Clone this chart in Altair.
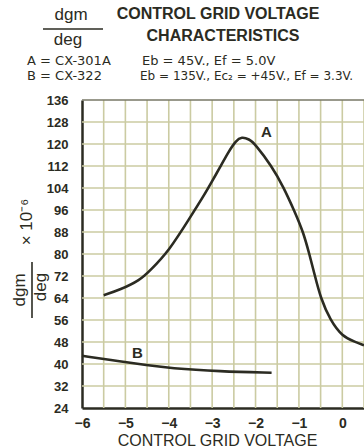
import altair as alt
import pandas as pd

# Curve A: CX-301A
a_x = [-5.5, -5.12, -4.66, -4.43, -4.0, -3.5, -3.2, -3.0, -2.82, -2.63, -2.45, -2.32, -2.15, -2.01, -1.63, -1.36, -1.1, -0.9, -0.76, -0.63, -0.5, -0.28, 0.0, 0.3, 0.5]
a_y = [65, 67, 70.5, 74, 81, 93.5, 101, 106.5, 111.5, 117, 121.3, 122.6, 121.8, 120, 112, 104.5, 95.5, 88, 80, 72, 64, 56, 50, 48, 46.8]
# Curve B: CX-322
b_x = [-6, -5.14, -4.5, -3.98, -2.82, -1.63]
b_y = [43, 41, 39.6, 38.5, 37.3, 36.8]

x_ticks = [-6, -5, -4, -3, -2, -1, 0]
x_grid = [-5.5, -5, -4.5, -4, -3.5, -3, -2.5, -2, -1.5, -1, -0.5, 0, 0.5]
y_ticks = [24, 32, 40, 48, 56, 64, 72, 80, 88, 96, 104, 112, 120, 128, 136]
y_grid = [32, 40, 48, 56, 64, 72, 80, 88, 96, 104, 112, 120, 128]

curve_labels = ["A", "B"]
label_x = [-1.75, -4.72]
label_y = [124.5, 44]

FONT = "Liberation Sans"
HFONT = "DejaVu Sans"
INK = "#2b2b22"
GRID = "#cbcba2"

df_a = pd.DataFrame({"v": a_x, "g": a_y})
df_b = pd.DataFrame({"v": b_x, "g": b_y})
df_lab = pd.DataFrame({"v": label_x, "g": label_y, "t": curve_labels})

xs = alt.Scale(domain=[-6, 0.5], nice=False, zero=False)
ys = alt.Scale(domain=[24, 136], nice=False, zero=False)

x_axis = alt.Axis(values=x_ticks, grid=False, ticks=False, domainColor=INK, domainWidth=2.5,
                  labelFont=FONT, labelFontWeight="bold", labelFontSize=14, labelColor=INK,
                  labelPadding=8, labelOverlap=False, labelBound=False, labelFlush=False,
                  title="CONTROL GRID VOLTAGE", titleFont=FONT, titleFontSize=16,
                  titleFontWeight="normal", titleColor=INK, titlePadding=2, titleX=135)
y_axis = alt.Axis(values=y_ticks, grid=False, ticks=False, domainColor=INK, domainWidth=2.5,
                  labelFont=FONT, labelFontWeight="bold", labelFontSize=13, labelColor=INK,
                  labelPadding=14, labelOverlap=False, labelBound=False, labelFlush=False,
                  title=None)

vgrid = alt.Chart(pd.DataFrame({"v": x_grid})).mark_rule(color=GRID, strokeWidth=1.6).encode(
    x=alt.X("v:Q", scale=xs, axis=x_axis))
hgrid = alt.Chart(pd.DataFrame({"g": y_grid})).mark_rule(color=GRID, strokeWidth=1.6).encode(
    y=alt.Y("g:Q", scale=ys, axis=y_axis))
top = alt.Chart(pd.DataFrame({"g": [136]})).mark_rule(color="#777766", strokeWidth=1.5).encode(
    y=alt.Y("g:Q", scale=ys, axis=y_axis))

line_a = alt.Chart(df_a).mark_line(color=INK, strokeWidth=2.6, interpolate="basis").encode(
    x=alt.X("v:Q", scale=xs, axis=x_axis), y=alt.Y("g:Q", scale=ys, axis=y_axis))
line_b = alt.Chart(df_b).mark_line(color=INK, strokeWidth=2.6, interpolate="basis").encode(
    x=alt.X("v:Q", scale=xs, axis=x_axis), y=alt.Y("g:Q", scale=ys, axis=y_axis))

labels = alt.Chart(df_lab).mark_text(font=FONT, fontSize=15, fontWeight="bold", color=INK).encode(
    x=alt.X("v:Q", scale=xs, axis=x_axis), y=alt.Y("g:Q", scale=ys, axis=y_axis), text="t:N")

def txt(s, x, y, size=14, weight="bold", angle=0, align="center", font=FONT):
    return alt.Chart(pd.DataFrame({"t": [s]})).mark_text(
        font=font, fontSize=size, fontWeight=weight, color=INK, angle=angle, align=align,
        baseline="middle").encode(x=alt.value(x), y=alt.value(y), text="t:N")

def hline(x1, x2, y, w=1.6):
    return alt.Chart(pd.DataFrame({"t": [0]})).mark_rule(color=INK, strokeWidth=w).encode(
        x=alt.value(x1), x2=alt.value(x2), y=alt.value(y))

def vline(x, y1, y2, w=1.6):
    return alt.Chart(pd.DataFrame({"t": [0]})).mark_rule(color=INK, strokeWidth=w).encode(
        x=alt.value(x), y=alt.value(y1), y2=alt.value(y2))

# positions relative to plot origin (82, 100)
L, T = 82, 100
annots = [
    txt("dgm", 71 - L, 15 - T, size=17, weight="normal"),
    hline(43 - L, 103 - L, 29 - T),
    txt("deg", 68 - L, 40 - T, size=17, weight="normal"),
    txt("CONTROL GRID VOLTAGE", 218 - L, 14 - T, size=16),
    txt("CHARACTERISTICS", 223 - L, 36 - T, size=16),
    txt("A = CX-301A", 27 - L, 61 - T, size=13, weight="normal", align="left", font=HFONT),
    txt("Eb = 45V., Ef = 5.0V", 142 - L, 61 - T, size=13, weight="normal", align="left", font=HFONT),
    txt("B = CX-322", 27 - L, 76 - T, size=13, weight="normal", align="left", font=HFONT),
    txt("Eb = 135V., Ec₂ = +45V., Ef = 3.3V.", 140 - L, 76 - T, size=12, weight="normal", align="left", font=HFONT),
    # y-axis title: fraction dgm/deg x 10^-6, rotated
    txt("dgm", 20 - L, 290 - T, size=17, weight="normal", angle=270),
    vline(32 - L, 262 - T, 318 - T),
    txt("deg", 41 - L, 287 - T, size=17, weight="normal", angle=270),
    txt("× 10⁻⁶", 27 - L, 222 - T, size=17, weight="normal", angle=270),
]

chart = alt.layer(vgrid, hgrid, top, line_a, line_b, labels, *annots).properties(
    width=282, height=308,
    autosize=alt.AutoSizeParams(type="none"),
    padding={"left": 82, "top": 100, "right": 0, "bottom": 40},
    background="white",
).configure_view(stroke=None)

chart.save("out.html", embed_options={"renderer": "svg", "actions": False})
